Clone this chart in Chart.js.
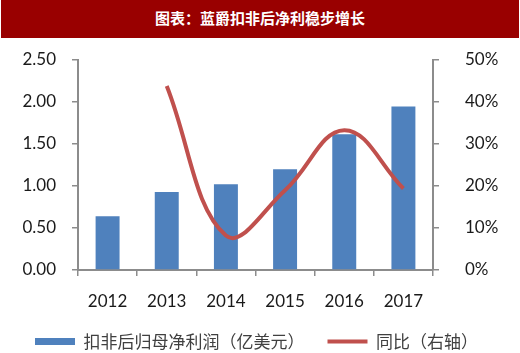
<!DOCTYPE html>
<html>
<head>
<meta charset="utf-8">
<script src="https://cdn.jsdelivr.net/npm/chart.js@4/dist/chart.umd.min.js"></script>
<style>
  html, body { margin: 0; padding: 0; background: #fff; }
  #wrap { width: 520px; height: 353px; position: relative; overflow: hidden; }
  #title { position: absolute; left: 1px; top: 0; width: 518px; height: 38px; background: #990000;
    color: #fff; font: bold 15px "Noto Sans CJK SC", sans-serif; text-align: center; line-height: 36px; }
  #cv { position: absolute; left: 0; top: 38px; }
</style>
</head>
<body>
<div id="wrap">
  <div id="title">图表：蓝爵扣非后净利稳步增长</div>
  <canvas id="cv" width="520" height="315"></canvas>
</div>
<script>
const categories = ['2012', '2013', '2014', '2015', '2016', '2017'];
const profitValues = [0.64, 0.93, 1.02, 1.20, 1.615, 1.945];
const yoyValues = [null, 43.8, 8.2, 19.0, 33.3, 19.4];
const leftTicks = [0, 0.5, 1.0, 1.5, 2.0, 2.5];
const rightTicks = [0, 10, 20, 30, 40, 50];
const seriesNames = ['扣非后归母净利润（亿美元）', '同比（右轴）'];

const numFont = { family: 'Lato, "Open Sans", sans-serif', size: 17 };
const axisColor = '#8c8c8c';

new Chart(document.getElementById('cv'), {
  data: {
    labels: categories,
    datasets: [
      {
        type: 'line', label: seriesNames[1], data: yoyValues, yAxisID: 'y1',
        borderColor: '#C0504D', backgroundColor: '#C0504D', borderWidth: 4,
        pointRadius: 0, tension: 0.4, order: 0, spanGaps: false
      },
      {
        type: 'bar', label: seriesNames[0], data: profitValues, yAxisID: 'y',
        backgroundColor: '#4F81BD', borderColor: '#ffffff', borderWidth: 0,
        barPercentage: 0.405, categoryPercentage: 1, order: 1
      }
    ]
  },
  options: {
    responsive: false, animation: false,
    layout: { padding: { top: 22, left: 0, right: 7, bottom: 1 } },
    plugins: {
      tooltip: { enabled: false },
      legend: {
        position: 'bottom',
        maxHeight: 42,
        labels: {
          usePointStyle: true, pointStyleWidth: 40, boxWidth: 40, boxHeight: 7, padding: 23,
          color: '#404040', font: { family: '"Noto Sans CJK SC", sans-serif', size: 17 },
          generateLabels: function (chart) {
            return [
              { text: seriesNames[0], fillStyle: '#4F81BD', strokeStyle: '#4F81BD', lineWidth: 0, pointStyle: 'rect', datasetIndex: 1, fontColor: '#404040' },
              { text: seriesNames[1], fillStyle: '#C0504D', strokeStyle: '#C0504D', lineWidth: 4, pointStyle: 'line', datasetIndex: 0, fontColor: '#404040' }
            ];
          }
        }
      }
    },
    scales: {
      x: {
        offset: true,
        grid: { offset: true, drawOnChartArea: false, drawTicks: true, tickLength: 6, color: axisColor, lineWidth: 1.5 },
        border: { display: true, color: axisColor, width: 2 },
        ticks: { color: '#1a1a1a', font: numFont, padding: 15 },
        afterFit: function (s) { s.height = 40; }
      },
      y: {
        position: 'left', min: 0, max: 2.5,
        afterBuildTicks: function (s) { s.ticks = leftTicks.map(v => ({ value: v })); },
        grid: { drawOnChartArea: false, tickLength: 6, color: axisColor, lineWidth: 1.5 },
        border: { display: true, color: axisColor, width: 2 },
        ticks: { color: '#1a1a1a', font: numFont, padding: 16, callback: v => Number(v).toFixed(2) },
        afterFit: function (s) { s.width = 78; s.paddingTop = 10; s.paddingBottom = 10; }
      },
      y1: {
        position: 'right', min: 0, max: 50,
        afterBuildTicks: function (s) { s.ticks = rightTicks.map(v => ({ value: v })); },
        grid: { drawOnChartArea: false, tickLength: 6, color: axisColor, lineWidth: 1.5 },
        border: { display: true, color: axisColor, width: 2 },
        ticks: { color: '#1a1a1a', font: numFont, padding: 26, callback: v => v + '%' },
        afterFit: function (s) { s.width = 80; s.paddingTop = 10; s.paddingBottom = 10; }
      }
    }
  }
});
</script>
</body>
</html>
